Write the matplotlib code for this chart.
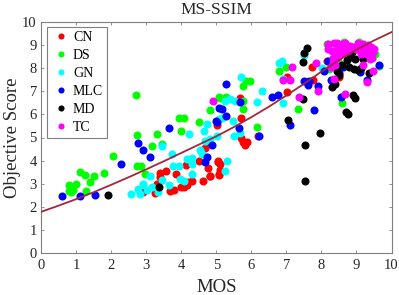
import matplotlib
matplotlib.use('Agg')
import matplotlib.pyplot as plt

# values as (MOS, objective score)
cn_x = [2.92, 3.26, 3.30, 3.40, 3.57, 3.40, 3.69, 3.80, 3.85, 3.99, 4.09, 4.16, 4.32, 4.20, 4.13, 4.50, 4.62, 4.76,
        4.83, 4.69, 5.07, 5.05, 4.73, 5.06, 5.10, 5.10, 5.08, 4.82, 5.77, 5.89, 5.82, 5.01, 5.70, 5.67, 6.18, 5.72,
        7.01, 7.01, 7.72, 7.77, 8.17, 8.49]
cn_y = [2.64, 2.60, 3.00, 3.48, 3.54, 3.29, 2.68, 2.73, 3.43, 2.86, 2.86, 2.93, 3.12, 3.07, 3.80, 3.98, 3.12, 3.69,
        3.33, 4.56, 3.39, 3.94, 4.80, 3.98, 3.87, 3.60, 3.40, 3.35, 4.80, 4.80, 4.66, 5.55, 5.83, 6.70, 5.05, 5.00,
        6.96, 7.62, 8.07, 7.50, 8.30, 7.62]

ds_x = [2.06, 2.73, 2.86, 2.97, 1.11, 1.26, 1.52, 1.80, 1.41, 1.00, 0.79, 0.92, 0.79, 0.87, 1.29, 3.18, 3.45, 2.72,
        2.75, 3.30, 3.95, 4.07, 4.00, 4.50, 4.82, 5.08, 6.80, 7.00, 5.77, 5.85, 5.96, 5.10, 5.27, 5.77, 5.75, 6.15,
        7.34, 8.58, 8.15, 8.65, 9.08, 9.52, 9.65, 8.22, 8.48]
ds_y = [4.18, 3.78, 3.78, 3.40, 3.49, 3.39, 3.32, 3.48, 3.09, 2.99, 2.94, 2.71, 2.67, 2.63, 2.68, 4.63, 4.72, 6.82,
        5.10, 5.14, 5.85, 5.85, 5.30, 5.65, 6.20, 6.75, 7.90, 8.05, 7.25, 7.43, 7.43, 6.70, 6.75, 6.60, 6.25, 5.45,
        6.25, 6.50, 9.05, 9.15, 9.15, 8.60, 8.10, 7.95, 8.30]

gn_x = [2.56, 2.83, 2.78, 2.92, 3.02, 3.16, 3.11, 3.35, 3.46, 3.46, 3.64, 3.73, 3.78, 3.95, 3.97, 4.07, 4.32, 4.16,
        4.32, 4.32, 4.54, 4.59, 4.22, 4.64, 4.73, 4.67, 4.83, 5.02, 5.07, 5.30, 5.26, 5.51, 5.69, 5.47, 5.15, 5.25,
        5.39, 5.53, 5.72, 6.15, 6.30, 6.91, 6.80, 6.89, 7.50, 8.01, 6.91]
gn_y = [2.57, 2.54, 2.76, 3.00, 2.74, 2.86, 3.33, 2.63, 3.15, 4.62, 2.93, 4.30, 3.77, 3.75, 3.22, 3.12, 3.40, 4.05,
        4.11, 3.87, 4.44, 4.27, 5.14, 5.27, 5.60, 4.85, 4.93, 5.05, 5.80, 3.98, 3.56, 5.05, 5.20, 5.70, 5.83, 6.60,
        6.65, 6.57, 7.63, 6.52, 7.03, 6.50, 8.21, 8.30, 8.55, 8.00, 7.55]

mlc_x = [0.60, 1.11, 1.53, 2.29, 2.90, 3.11, 2.76, 4.73, 4.67, 4.87, 3.64, 5.00, 5.08, 5.28, 5.15, 5.28, 5.01, 5.65,
         5.68, 6.23, 6.60, 6.76, 7.10, 7.50, 7.65, 7.62, 7.90, 7.80, 8.27, 8.56, 8.07, 8.20, 8.62, 9.10, 9.30, 9.63,
         8.50]
mlc_y = [2.47, 2.47, 2.50, 3.85, 4.44, 4.16, 4.78, 4.16, 3.94, 4.68, 5.42, 5.73, 6.28, 7.32, 6.22, 5.93, 5.67, 5.40,
         6.52, 5.05, 6.77, 6.83, 5.53, 7.43, 7.46, 7.26, 7.25, 6.20, 7.50, 6.77, 7.90, 8.33, 8.05, 7.85, 7.47, 8.15,
         7.80]

md_x = [1.92, 3.36, 7.53, 7.52, 7.96, 8.70, 8.77, 8.91, 8.97, 7.05, 7.48, 8.30, 8.40, 7.48, 7.50, 7.60, 9.36, 8.45,
        8.60, 8.74, 8.88, 8.79, 8.93, 9.03, 9.12, 9.20, 8.97, 8.83, 8.50]
md_y = [2.50, 2.86, 4.68, 3.12, 5.20, 6.10, 6.00, 6.84, 6.73, 5.77, 6.65, 7.20, 7.30, 8.28, 8.66, 8.87, 7.80, 7.90,
        8.15, 8.36, 8.70, 8.05, 7.97, 7.93, 8.00, 8.40, 8.40, 8.50, 7.70]

tc_x = [4.92, 7.16, 6.90, 7.10, 7.37, 7.90, 7.86, 8.36, 8.66, 9.30, 9.46, 9.20, 8.28, 8.32, 8.20, 8.35, 8.44, 8.53,
        8.29, 8.39, 8.58, 8.67, 8.81, 8.90, 9.05, 9.19, 9.33, 9.42, 9.47, 9.38, 9.28, 9.09, 9.14, 9.00, 8.67, 8.58,
        8.34, 8.48, 9.38, 8.50, 8.75, 8.95, 9.20, 9.30, 9.45, 9.50, 8.20, 8.45, 8.40]
tc_y = [6.60, 8.07, 7.47, 7.50, 6.77, 7.00, 8.22, 7.52, 6.87, 7.40, 7.90, 8.13, 8.07, 8.27, 9.05, 9.08, 9.10, 8.97,
        8.75, 8.60, 8.66, 8.80, 8.98, 8.90, 9.07, 9.05, 9.00, 8.90, 8.70, 8.55, 8.80, 8.80, 8.60, 8.83, 9.10, 9.04,
        8.46, 8.90, 8.40, 8.75, 8.75, 8.90, 8.85, 8.60, 8.45, 8.85, 8.85, 8.45, 8.15]

curve_x = [0, 0.5, 1, 1.5, 2, 2.5, 3, 3.5, 4, 4.5, 5, 5.5, 6, 6.5, 7, 7.5, 8, 8.5, 9, 9.5, 10]
curve_y = [1.78, 2.05, 2.33, 2.63, 2.95, 3.28, 3.62, 3.97, 4.33, 4.69, 5.05, 5.45, 5.88, 6.33, 6.82, 7.32, 7.85, 8.35,
           8.80, 9.20, 9.56]

series = [
    ('CN', cn_x, cn_y, '#ff0000'),
    ('DS', ds_x, ds_y, '#00ff00'),
    ('GN', gn_x, gn_y, '#00ffff'),
    ('MLC', mlc_x, mlc_y, '#0000ff'),
    ('MD', md_x, md_y, '#000000'),
    ('TC', tc_x, tc_y, '#ff00ff'),
]

plt.rcParams['font.family'] = ['Liberation Serif', 'DejaVu Serif']
grey = '#7f7f7f'
ink = '#262626'

fig = plt.figure(figsize=(3.99, 2.95), dpi=100)
ax = fig.add_axes([41 / 399, 1 - 253 / 295, 350.5 / 399, 231 / 295])

for name, xs, ys, color in series:
    ax.plot(xs, ys, 'o', color=color, ms=5.8, mew=0, label=name, zorder=2)
ax.plot(curve_x, curve_y, color='#a3263c', lw=1.3, zorder=4)

ax.set_xlim(0, 10)
ax.set_ylim(0, 10)
ax.set_xticks(range(11))
ax.set_yticks(range(11))
ax.tick_params(direction='in', top=True, right=True, length=2.5, width=0.6, color=grey,
               labelcolor=ink, labelsize=10.5, pad=3)
ax.tick_params(axis='x', pad=4.5)
for spine in ax.spines.values():
    spine.set_color(grey)
    spine.set_linewidth(0.8)

ax.set_title('MS-SSIM', fontsize=12.5, color=ink, pad=6)
ax.set_xlabel('MOS', fontsize=13.5, color=ink, labelpad=5)
ax.set_ylabel('Objective Score', fontsize=13.5, color=ink, labelpad=1)

leg = ax.legend(loc='upper left', fontsize=10, markerscale=0.76, fancybox=False, framealpha=1, edgecolor=grey,
                bbox_to_anchor=(0.016, 0.978), borderaxespad=0, labelspacing=0.36, handletextpad=0.1,
                borderpad=0.3, handlelength=1.5)
leg.get_frame().set_linewidth(0.8)
leg.set_zorder(10)

fig.savefig('out.png', dpi=100)
